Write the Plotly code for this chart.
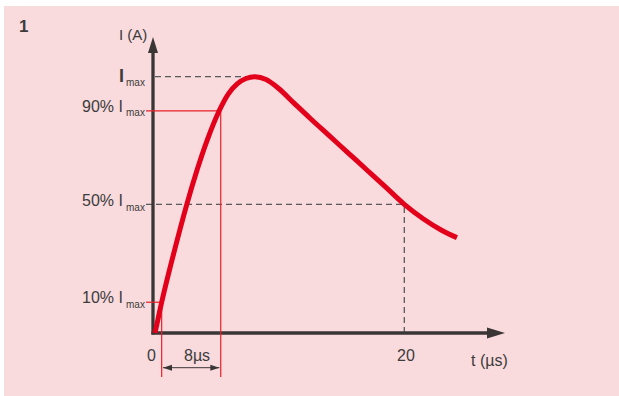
import plotly.graph_objects as go

# Surge current wave (time in µs, current relative to Imax)
time_us = [0.16, 0.4, 0.69, 1.5, 2.68, 3.5, 4.3, 5.25, 6.0, 6.7, 7.4, 8.12,
           9.0, 10.0, 11.2, 12.5, 14.0, 15.5, 17.0, 18.5, 20.0, 21.5, 23.0, 24.19]
current_rel = [0.0, 0.055, 0.12, 0.282, 0.5, 0.635, 0.751, 0.865, 0.933, 0.972, 0.993, 1.0,
               0.989, 0.954, 0.898, 0.838, 0.771, 0.704, 0.637, 0.570, 0.502, 0.446, 0.40, 0.372]

# guide levels (as drawn) and their labels
level_names = ["I", "90% I", "50% I", "10% I"]
level_values = [1.0, 0.867, 0.502, 0.12]
t_10 = 0.69
t_90 = 5.39
t_peak = 8.12
t_50 = 20.0
x_tick_vals = [0, 20]
x_tick_text = ["0", "20"]
rise_label = "8µs"

# pixel scale of the drawing
W, H = 619, 396
X0, Y0 = 153, 333          # origin in pixels
KX, KY = 12.565, 256.3     # pixels per µs / per Imax


def dx(p):
    return p / KX


def dy(p):
    return p / KY


AXIS = "#3a3636"
RED = "#e2001a"
THIN_RED = "#e8202a"
DASH = "#5a5a5a"
TEXT = "#3c3c3c"
FONT = "Liberation Sans, Arial, sans-serif"

fig = go.Figure()
shapes = []

# pink panel
shapes.append(dict(type="rect", xref="paper", yref="paper", x0=4 / W, x1=1, y0=0, y1=1 - 6 / H,
                   fillcolor="#f9dadd", line_width=0, layer="below"))

dash_line = dict(color=DASH, width=1.3, dash="6px,4px")
label_left = dx(146 - X0)

# dashed guides
shapes.append(dict(type="line", x0=dx(2), x1=t_peak, y0=level_values[0], y1=level_values[0],
                   line=dash_line, layer="below"))
shapes.append(dict(type="line", x0=label_left, x1=t_50, y0=level_values[2], y1=level_values[2],
                   line=dash_line, layer="below"))
shapes.append(dict(type="line", x0=t_50, x1=t_50, y0=0, y1=level_values[2],
                   line=dash_line, layer="below"))

# axes
ax_w = 3.3
x_tip = dx(505 - X0)
y_tip = dy(Y0 - 37)
shapes.append(dict(type="line", x0=-dx(1.6), x1=x_tip - dx(16), y0=0, y1=0,
                   line=dict(color=AXIS, width=ax_w), layer="below"))
shapes.append(dict(type="line", x0=0, x1=0, y0=-dy(1.6), y1=y_tip - dy(14),
                   line=dict(color=AXIS, width=ax_w), layer="below"))
shapes.append(dict(type="path", layer="below", fillcolor=AXIS, line_width=0,
                   path=f"M {x_tip} 0 L {x_tip - dx(18)} {dy(5.5)} L {x_tip - dx(18)} {-dy(5.5)} Z"))
shapes.append(dict(type="path", layer="below", fillcolor=AXIS, line_width=0,
                   path=f"M 0 {y_tip} L {dx(5)} {y_tip - dy(16)} L {-dx(5)} {y_tip - dy(16)} Z"))

# red 10% / 90% guides
red_line = dict(color=THIN_RED, width=1.2)
low = -dy(377 - Y0)
shapes.append(dict(type="line", x0=label_left, x1=t_90, y0=level_values[1], y1=level_values[1],
                   line=red_line, layer="below"))
shapes.append(dict(type="line", x0=label_left, x1=t_10, y0=level_values[3], y1=level_values[3],
                   line=red_line, layer="below"))
shapes.append(dict(type="line", x0=t_10, x1=t_10, y0=level_values[3], y1=low,
                   line=red_line, layer="below"))
shapes.append(dict(type="line", x0=t_90, x1=t_90, y0=level_values[1], y1=low,
                   line=red_line, layer="below"))

# 8µs dimension arrow
dim_y = -dy(367.7 - Y0)
a0 = t_10 + dx(1.3)
a1 = t_90 - dx(1.4)
shapes.append(dict(type="line", x0=a0, x1=a1, y0=dim_y, y1=dim_y,
                   line=dict(color=AXIS, width=1), layer="below"))
shapes.append(dict(type="path", layer="below", fillcolor=AXIS, line_width=0,
                   path=f"M {a0} {dim_y} L {a0 + dx(9)} {dim_y + dy(3)} L {a0 + dx(9)} {dim_y - dy(3)} Z"))
shapes.append(dict(type="path", layer="below", fillcolor=AXIS, line_width=0,
                   path=f"M {a1} {dim_y} L {a1 - dx(9)} {dim_y + dy(3)} L {a1 - dx(9)} {dim_y - dy(3)} Z"))

# the wave
fig.add_trace(go.Scatter(
    x=time_us, y=current_rel, mode="lines",
    line=dict(color=RED, width=5, shape="spline", smoothing=1.0),
    hoverinfo="skip", showlegend=False
))

annotations = []


def note(text, x, y, size=16, xanchor="center", bold=False, yshift=0):
    if bold:
        text = f"<b>{text}</b>"
    annotations.append(dict(text=text, x=x, y=y, xref="x", yref="y", showarrow=False,
                            xanchor=xanchor, yanchor="middle", yshift=yshift, borderpad=0,
                            font=dict(family=FONT, size=size, color=TEXT)))


# level labels with the "max" subscript
main_shift = [1, 4, 3.5, 4.8]
sub_shift = [-5.5, -2, -3, -2.5]
for name, val, ms, ss in zip(level_names, level_values, main_shift, sub_shift):
    if name == "I":
        note(name, dx(125 - X0), val, size=18, xanchor="right", bold=True, yshift=ms)
    else:
        note(name, dx(124 - X0), val, size=16, xanchor="right", yshift=ms)
    note("max", label_left, val, size=10, xanchor="right", yshift=ss)

for v, t in zip(x_tick_vals, x_tick_text):
    note(t, v + dx(2 if v else -1.3), -dy(355 - Y0))
note(rise_label, dx(196.7 - X0), -dy(355 - Y0))
note("t (µs)", dx(489 - X0), -dy(360 - Y0))
note("I (A)", dx(133 - X0), dy(Y0 - 34), size=15)
note("1", dx(23 - X0), dy(Y0 - 26), size=17, bold=True)

fig.update_layout(
    width=W, height=H,
    margin=dict(l=0, r=0, t=0, b=0),
    paper_bgcolor="white",
    plot_bgcolor="rgba(0,0,0,0)",
    xaxis=dict(range=[dx(-X0), dx(W - X0)], visible=False, fixedrange=True),
    yaxis=dict(range=[-dy(H - Y0), dy(Y0)], visible=False, fixedrange=True),
    shapes=shapes,
    annotations=annotations,
    showlegend=False
)

fig.write_html("out.html", config={"displayModeBar": False},
               post_script="document.body.style.margin='0';")
